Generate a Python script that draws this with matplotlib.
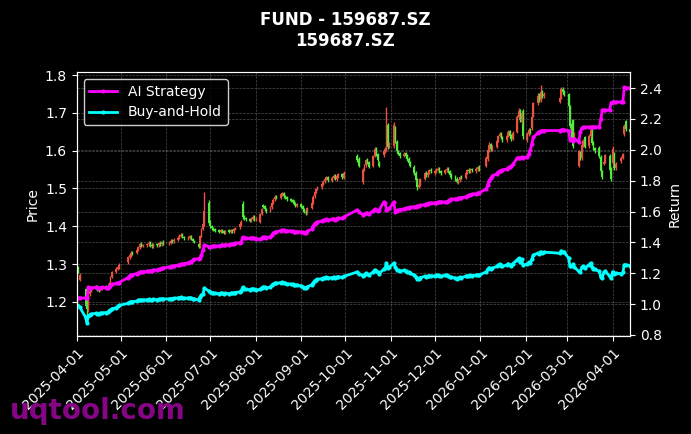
import matplotlib
matplotlib.use("Agg")
import matplotlib.pyplot as plt
import matplotlib.dates as mdates
import numpy as np
import pandas as pd

# trading calendar (weekdays minus exchange holidays)
holidays = ['2025-04-04', '2025-05-01', '2025-05-02', '2025-05-05', '2025-06-02',
            '2025-10-01', '2025-10-02', '2025-10-03', '2025-10-06', '2025-10-07', '2025-10-08',
            '2026-01-01', '2026-01-02', '2026-02-16', '2026-02-17', '2026-02-18',
            '2026-02-19', '2026-02-20', '2026-02-23', '2026-04-06']
dates = pd.bdate_range('2025-04-01', '2026-04-13')
dates = dates[~dates.isin(pd.to_datetime(holidays))]

# daily OHLC (price axis)
opens = [
    1.262, 1.290, 1.258, 1.235, 1.192, 1.178, 1.220, 1.230, 1.238, 1.242, 1.236, 1.230, 1.236, 1.242, 1.240, 1.236, 1.250, 1.266, 1.280, 1.288, 1.292,  # apr
    1.305, 1.318, 1.324, 1.332, 1.330, 1.338, 1.345, 1.354, 1.348, 1.350, 1.352, 1.357, 1.351, 1.347, 1.353, 1.350, 1.356, 1.352, 1.359,  # may
    1.355, 1.357, 1.363, 1.360, 1.365, 1.370, 1.375, 1.378, 1.372, 1.368, 1.370, 1.374, 1.366, 1.362, 1.352, 1.346, 1.376, 1.393, 1.405, 1.462,  # jun
    1.412, 1.401, 1.396, 1.392, 1.389, 1.385, 1.391, 1.387, 1.383, 1.389, 1.385, 1.391, 1.387, 1.392, 1.397, 1.405, 1.460, 1.426, 1.421, 1.418, 1.414, 1.420, 1.426,  # jul
    1.418, 1.412, 1.433, 1.457, 1.453, 1.446, 1.441, 1.451, 1.463, 1.471, 1.479, 1.476, 1.485, 1.489, 1.481, 1.477, 1.473, 1.469, 1.466, 1.461, 1.454,  # aug
    1.459, 1.453, 1.446, 1.439, 1.436, 1.449, 1.463, 1.479, 1.491, 1.499, 1.503, 1.513, 1.519, 1.526, 1.531, 1.521, 1.528, 1.534, 1.525, 1.531, 1.539, 1.529,  # sep
    1.585, 1.578, 1.517, 1.550, 1.562, 1.576, 1.569, 1.560, 1.586, 1.607, 1.591, 1.568, 1.588, 1.597, 1.603, 1.667, 1.611,  # oct
    1.612, 1.660, 1.623, 1.599, 1.593, 1.586, 1.593, 1.586, 1.579, 1.569, 1.558, 1.541, 1.523, 1.504, 1.511, 1.526, 1.541, 1.535, 1.543, 1.549,  # nov
    1.540, 1.545, 1.549, 1.553, 1.546, 1.541, 1.548, 1.553, 1.546, 1.536, 1.531, 1.526, 1.517, 1.522, 1.531, 1.529, 1.541, 1.549, 1.545, 1.551, 1.546, 1.551, 1.557,  # dec
    1.560, 1.578, 1.600, 1.617, 1.604, 1.611, 1.626, 1.639, 1.646, 1.636, 1.627, 1.641, 1.651, 1.639, 1.631, 1.650, 1.688, 1.706, 1.675, 1.705,  # jan
    1.628, 1.644, 1.657, 1.660, 1.692, 1.726, 1.748, 1.733, 1.757, 1.744, 1.730, 1.741, 1.764, 1.756,  # feb
    1.750, 1.716, 1.668, 1.680, 1.636, 1.560, 1.596, 1.580, 1.614, 1.636, 1.612, 1.640, 1.656, 1.621, 1.606, 1.608, 1.584, 1.546, 1.565, 1.571, 1.586, 1.553,  # mar
    1.568, 1.592, 1.553, 1.572, 1.581, 1.645, 1.678, 1.657,  # apr
]
highs = [
    1.292, 1.294, 1.276, 1.238, 1.230, 1.218, 1.232, 1.240, 1.244, 1.245, 1.238, 1.240, 1.243, 1.245, 1.243, 1.252, 1.268, 1.282, 1.292, 1.296, 1.302,
    1.322, 1.329, 1.334, 1.335, 1.342, 1.349, 1.356, 1.358, 1.354, 1.356, 1.360, 1.360, 1.355, 1.356, 1.356, 1.359, 1.360, 1.362, 1.363,
    1.361, 1.366, 1.366, 1.369, 1.374, 1.379, 1.382, 1.381, 1.375, 1.373, 1.378, 1.377, 1.369, 1.365, 1.355, 1.378, 1.396, 1.410, 1.490, 1.470,
    1.416, 1.404, 1.399, 1.395, 1.392, 1.393, 1.394, 1.390, 1.391, 1.392, 1.393, 1.394, 1.395, 1.399, 1.409, 1.416, 1.466, 1.430, 1.425, 1.422, 1.424, 1.429, 1.430,
    1.425, 1.436, 1.449, 1.460, 1.456, 1.449, 1.454, 1.466, 1.474, 1.482, 1.483, 1.489, 1.492, 1.492, 1.484, 1.480, 1.476, 1.472, 1.469, 1.464, 1.462,
    1.462, 1.456, 1.449, 1.442, 1.451, 1.466, 1.482, 1.494, 1.502, 1.506, 1.516, 1.522, 1.529, 1.534, 1.534, 1.532, 1.537, 1.538, 1.536, 1.542, 1.542, 1.545,
    1.590, 1.582, 1.554, 1.566, 1.579, 1.580, 1.572, 1.589, 1.610, 1.611, 1.595, 1.572, 1.602, 1.609, 1.715, 1.672, 1.624,
    1.675, 1.665, 1.627, 1.603, 1.597, 1.596, 1.597, 1.590, 1.583, 1.573, 1.562, 1.545, 1.527, 1.514, 1.529, 1.544, 1.545, 1.546, 1.552, 1.553,
    1.549, 1.554, 1.556, 1.557, 1.550, 1.552, 1.556, 1.557, 1.550, 1.540, 1.535, 1.530, 1.526, 1.534, 1.535, 1.544, 1.552, 1.553, 1.554, 1.555, 1.556, 1.560, 1.561,
    1.585, 1.607, 1.622, 1.621, 1.614, 1.630, 1.642, 1.650, 1.650, 1.640, 1.645, 1.655, 1.655, 1.643, 1.652, 1.695, 1.712, 1.710, 1.706, 1.709,
    1.650, 1.660, 1.661, 1.695, 1.730, 1.752, 1.752, 1.775, 1.760, 1.755, 1.745, 1.768, 1.768, 1.760,
    1.752, 1.720, 1.672, 1.684, 1.650, 1.602, 1.600, 1.619, 1.630, 1.640, 1.644, 1.660, 1.660, 1.625, 1.610, 1.612, 1.588, 1.550, 1.574, 1.592, 1.590, 1.557,
    1.612, 1.596, 1.570, 1.585, 1.594, 1.670, 1.682, 1.660,
]
lows = [
    1.258, 1.276, 1.254, 1.185, 1.162, 1.172, 1.216, 1.226, 1.234, 1.230, 1.226, 1.228, 1.232, 1.235, 1.231, 1.233, 1.246, 1.262, 1.276, 1.284, 1.288,
    1.300, 1.314, 1.320, 1.324, 1.326, 1.334, 1.341, 1.344, 1.344, 1.346, 1.348, 1.346, 1.343, 1.343, 1.346, 1.346, 1.348, 1.348, 1.351,
    1.351, 1.353, 1.356, 1.357, 1.362, 1.366, 1.371, 1.369, 1.365, 1.365, 1.367, 1.363, 1.359, 1.357, 1.342, 1.343, 1.372, 1.389, 1.400, 1.405,
    1.396, 1.391, 1.388, 1.384, 1.381, 1.382, 1.382, 1.379, 1.380, 1.381, 1.382, 1.383, 1.383, 1.389, 1.393, 1.401, 1.420, 1.416, 1.414, 1.411, 1.411, 1.416, 1.414,
    1.414, 1.408, 1.429, 1.448, 1.441, 1.436, 1.437, 1.447, 1.459, 1.467, 1.471, 1.472, 1.481, 1.476, 1.472, 1.468, 1.464, 1.461, 1.456, 1.451, 1.450,
    1.448, 1.441, 1.434, 1.431, 1.432, 1.445, 1.459, 1.475, 1.487, 1.495, 1.499, 1.509, 1.515, 1.522, 1.518, 1.518, 1.524, 1.522, 1.521, 1.527, 1.526, 1.525,
    1.570, 1.556, 1.512, 1.546, 1.558, 1.564, 1.554, 1.556, 1.582, 1.586, 1.571, 1.556, 1.584, 1.593, 1.600, 1.605, 1.607,
    1.608, 1.620, 1.594, 1.588, 1.581, 1.582, 1.581, 1.574, 1.564, 1.556, 1.536, 1.518, 1.497, 1.500, 1.507, 1.522, 1.531, 1.531, 1.539, 1.541,
    1.536, 1.541, 1.545, 1.541, 1.536, 1.537, 1.544, 1.541, 1.531, 1.526, 1.521, 1.514, 1.513, 1.518, 1.524, 1.525, 1.537, 1.541, 1.541, 1.544, 1.542, 1.547, 1.546,
    1.556, 1.574, 1.596, 1.600, 1.600, 1.607, 1.622, 1.635, 1.631, 1.624, 1.624, 1.637, 1.634, 1.626, 1.627, 1.646, 1.684, 1.676, 1.671, 1.630,
    1.624, 1.640, 1.645, 1.656, 1.688, 1.722, 1.730, 1.729, 1.740, 1.740, 1.726, 1.737, 1.750, 1.744,
    1.714, 1.660, 1.636, 1.607, 1.632, 1.556, 1.576, 1.576, 1.610, 1.606, 1.608, 1.636, 1.616, 1.601, 1.594, 1.580, 1.540, 1.524, 1.562, 1.567, 1.546, 1.519,
    1.563, 1.550, 1.548, 1.568, 1.577, 1.640, 1.652, 1.645,
]
closes = [
    1.288, 1.280, 1.272, 1.190, 1.182, 1.215, 1.228, 1.236, 1.240, 1.234, 1.230, 1.236, 1.240, 1.238, 1.235, 1.248, 1.265, 1.278, 1.288, 1.292, 1.298,
    1.318, 1.325, 1.330, 1.328, 1.338, 1.345, 1.352, 1.348, 1.350, 1.352, 1.356, 1.350, 1.347, 1.352, 1.350, 1.355, 1.352, 1.358, 1.355,
    1.357, 1.362, 1.360, 1.365, 1.370, 1.375, 1.378, 1.372, 1.368, 1.370, 1.374, 1.366, 1.362, 1.360, 1.345, 1.375, 1.392, 1.405, 1.440, 1.410,
    1.400, 1.395, 1.392, 1.388, 1.385, 1.390, 1.386, 1.383, 1.388, 1.385, 1.390, 1.387, 1.392, 1.396, 1.405, 1.412, 1.425, 1.420, 1.418, 1.415, 1.420, 1.425, 1.418,
    1.420, 1.432, 1.445, 1.452, 1.445, 1.440, 1.450, 1.462, 1.470, 1.478, 1.475, 1.485, 1.488, 1.480, 1.476, 1.472, 1.468, 1.465, 1.460, 1.455, 1.458,
    1.452, 1.445, 1.438, 1.435, 1.448, 1.462, 1.478, 1.490, 1.498, 1.502, 1.512, 1.518, 1.525, 1.530, 1.522, 1.528, 1.533, 1.526, 1.532, 1.538, 1.530, 1.540,
    1.575, 1.560, 1.550, 1.562, 1.575, 1.568, 1.558, 1.585, 1.605, 1.590, 1.575, 1.560, 1.598, 1.605, 1.665, 1.610, 1.620,
    1.668, 1.625, 1.598, 1.592, 1.585, 1.592, 1.585, 1.578, 1.568, 1.560, 1.540, 1.522, 1.505, 1.510, 1.525, 1.540, 1.535, 1.542, 1.548, 1.545,
    1.545, 1.550, 1.552, 1.545, 1.540, 1.548, 1.552, 1.545, 1.535, 1.530, 1.525, 1.518, 1.522, 1.530, 1.528, 1.540, 1.548, 1.545, 1.550, 1.548, 1.552, 1.556, 1.550,
    1.580, 1.602, 1.615, 1.605, 1.610, 1.625, 1.638, 1.645, 1.635, 1.628, 1.640, 1.650, 1.638, 1.630, 1.648, 1.690, 1.705, 1.680, 1.700, 1.640,
    1.645, 1.655, 1.650, 1.690, 1.725, 1.745, 1.735, 1.755, 1.745, 1.750, 1.740, 1.762, 1.755, 1.748,
    1.718, 1.665, 1.640, 1.612, 1.645, 1.598, 1.580, 1.615, 1.625, 1.610, 1.640, 1.655, 1.620, 1.605, 1.598, 1.585, 1.545, 1.530, 1.570, 1.588, 1.550, 1.525,
    1.605, 1.555, 1.565, 1.580, 1.590, 1.665, 1.658, 1.650,
]

# cumulative return curves (return axis)
ai_strategy = [
    1.040, 1.040, 1.040, 1.040, 1.040, 1.108, 1.105, 1.106, 1.108, 1.104, 1.102, 1.106, 1.108, 1.107, 1.106, 1.112, 1.120, 1.128, 1.134, 1.137, 1.140,
    1.172, 1.185, 1.190, 1.192, 1.198, 1.203, 1.208, 1.210, 1.210, 1.212, 1.215, 1.214, 1.216, 1.220, 1.222, 1.225, 1.228, 1.232, 1.234,
    1.240, 1.242, 1.245, 1.248, 1.252, 1.256, 1.258, 1.260, 1.262, 1.268, 1.272, 1.276, 1.285, 1.290, 1.295, 1.300, 1.320, 1.350, 1.382, 1.372,
    1.372, 1.374, 1.375, 1.376, 1.378, 1.380, 1.381, 1.382, 1.384, 1.386, 1.388, 1.390, 1.392, 1.395, 1.398, 1.402, 1.432, 1.430, 1.428, 1.426, 1.428, 1.430, 1.428,
    1.425, 1.420, 1.428, 1.435, 1.432, 1.430, 1.438, 1.448, 1.458, 1.466, 1.470, 1.476, 1.480, 1.478, 1.476, 1.475, 1.474, 1.472, 1.470, 1.468, 1.470,
    1.468, 1.465, 1.462, 1.462, 1.472, 1.485, 1.505, 1.520, 1.528, 1.532, 1.538, 1.542, 1.546, 1.550, 1.546, 1.549, 1.552, 1.548, 1.552, 1.558, 1.556, 1.565,
    1.610, 1.598, 1.578, 1.582, 1.590, 1.588, 1.585, 1.605, 1.615, 1.610, 1.604, 1.608, 1.660, 1.655, 1.612, 1.615, 1.620,
    1.662, 1.598, 1.605, 1.610, 1.612, 1.618, 1.620, 1.622, 1.625, 1.628, 1.630, 1.632, 1.635, 1.636, 1.640, 1.645, 1.650, 1.652, 1.655, 1.654,
    1.656, 1.658, 1.660, 1.662, 1.664, 1.660, 1.662, 1.668, 1.676, 1.680, 1.682, 1.684, 1.686, 1.688, 1.690, 1.695, 1.700, 1.705, 1.708, 1.712, 1.716, 1.720, 1.722,
    1.745, 1.775, 1.800, 1.817, 1.830, 1.845, 1.855, 1.862, 1.865, 1.870, 1.875, 1.885, 1.890, 1.892, 1.905, 1.946, 1.950, 1.948, 1.952, 1.950,
    1.952, 1.975, 2.000, 2.040, 2.080, 2.110, 2.118, 2.122, 2.125, 2.125, 2.125, 2.128, 2.130, 2.128,
    2.125, 2.065, 2.070, 2.058, 2.072, 2.050, 2.118, 2.140, 2.145, 2.146, 2.148, 2.146, 2.148, 2.147, 2.148, 2.150, 2.200, 2.255, 2.258, 2.256, 2.258, 2.305,
    2.310, 2.310, 2.310, 2.310, 2.312, 2.405, 2.400, 2.402,
]
buy_hold = [
    0.995, 0.990, 0.982, 0.915, 0.880, 0.925, 0.932, 0.936, 0.940, 0.938, 0.935, 0.940, 0.944, 0.945, 0.948, 0.955, 0.962, 0.970, 0.978, 0.985, 0.992,
    1.005, 1.012, 1.016, 1.015, 1.020, 1.025, 1.028, 1.026, 1.027, 1.029, 1.031, 1.028, 1.027, 1.030, 1.029, 1.032, 1.030, 1.034, 1.033,
    1.034, 1.036, 1.035, 1.037, 1.040, 1.042, 1.044, 1.040, 1.038, 1.040, 1.042, 1.038, 1.035, 1.034, 1.028, 1.045, 1.058, 1.068, 1.104, 1.085,
    1.078, 1.075, 1.073, 1.070, 1.068, 1.072, 1.069, 1.067, 1.070, 1.068, 1.071, 1.069, 1.072, 1.075, 1.080, 1.086, 1.108, 1.098, 1.096, 1.094, 1.097, 1.100, 1.095,
    1.092, 1.095, 1.105, 1.112, 1.108, 1.104, 1.112, 1.122, 1.130, 1.136, 1.134, 1.140, 1.142, 1.137, 1.134, 1.132, 1.130, 1.128, 1.125, 1.122, 1.124,
    1.118, 1.112, 1.107, 1.104, 1.112, 1.125, 1.138, 1.150, 1.156, 1.160, 1.165, 1.168, 1.172, 1.175, 1.170, 1.172, 1.176, 1.172, 1.175, 1.178, 1.173, 1.180,
    1.208, 1.198, 1.185, 1.192, 1.200, 1.196, 1.190, 1.208, 1.222, 1.212, 1.205, 1.198, 1.225, 1.232, 1.266, 1.232, 1.240,
    1.266, 1.238, 1.222, 1.218, 1.214, 1.218, 1.214, 1.210, 1.205, 1.200, 1.188, 1.175, 1.160, 1.163, 1.172, 1.180, 1.176, 1.181, 1.185, 1.183,
    1.183, 1.187, 1.189, 1.185, 1.181, 1.186, 1.189, 1.185, 1.178, 1.174, 1.170, 1.165, 1.168, 1.173, 1.172, 1.180, 1.185, 1.183, 1.186, 1.185, 1.188, 1.191, 1.187,
    1.210, 1.226, 1.236, 1.228, 1.232, 1.244, 1.252, 1.258, 1.250, 1.245, 1.255, 1.262, 1.254, 1.248, 1.262, 1.286, 1.296, 1.276, 1.290, 1.252,
    1.260, 1.270, 1.265, 1.290, 1.318, 1.330, 1.325, 1.340, 1.334, 1.337, 1.330, 1.345, 1.340, 1.335,
    1.300, 1.245, 1.250, 1.258, 1.240, 1.212, 1.208, 1.238, 1.245, 1.232, 1.255, 1.266, 1.242, 1.230, 1.225, 1.212, 1.175, 1.170, 1.205, 1.215, 1.180, 1.168,
    1.210, 1.195, 1.200, 1.198, 1.205, 1.256, 1.255, 1.250,
]

o = np.array(opens)
c = np.array(closes)
up = c >= o
up_color = '#ec5040'
down_color = '#52ec3c'
colors = np.where(up, up_color, down_color)

fig = plt.figure(figsize=(6.91, 4.34), dpi=100, facecolor='black')
ax = fig.add_axes([0.111, 0.226, 0.801, 0.608])
ax.set_facecolor('black')

# candles
ax.vlines(dates, lows, highs, colors=colors, linewidth=1)
ax.bar(dates, np.abs(c - o), bottom=np.minimum(o, c), width=1.3, color=colors, linewidth=0)

ax2 = ax.twinx()
ax2.plot(dates, ai_strategy, color='magenta', linewidth=2, marker='o', markersize=2, label='AI Strategy')
ax2.plot(dates, buy_hold, color='cyan', linewidth=2, marker='o', markersize=2, label='Buy-and-Hold')

ax.set_xlim(dates[0], dates[-1])
ax.set_ylim(1.11, 1.808)
ax2.set_ylim(0.794, 2.504)

ax.xaxis.set_major_locator(mdates.MonthLocator())
ax.xaxis.set_major_formatter(mdates.DateFormatter('%Y-%m-%d'))
plt.setp(ax.get_xticklabels(), rotation=45, ha='right', rotation_mode='anchor')

for a in (ax, ax2):
    a.tick_params(colors='white', labelsize=10)
    for s in a.spines.values():
        s.set_color('white')
    a.grid(True, color='gray', linestyle='--', linewidth=0.5, alpha=0.6)

ax.set_ylabel('Price', color='white', fontsize=10)
ax2.set_ylabel('Return', color='white', fontsize=10)

leg = ax2.legend(loc='upper left', facecolor='black', edgecolor='white', fontsize=10)
for t in leg.get_texts():
    t.set_color('white')

fig.suptitle('FUND - 159687.SZ\n159687.SZ', color='white', fontsize=12, fontweight='bold', y=0.975)
fig.text(0.015, 0.035, 'uqtool.com', color='#850585', fontsize=20, fontweight='bold')

fig.savefig('out.png', dpi=100, facecolor='black')
